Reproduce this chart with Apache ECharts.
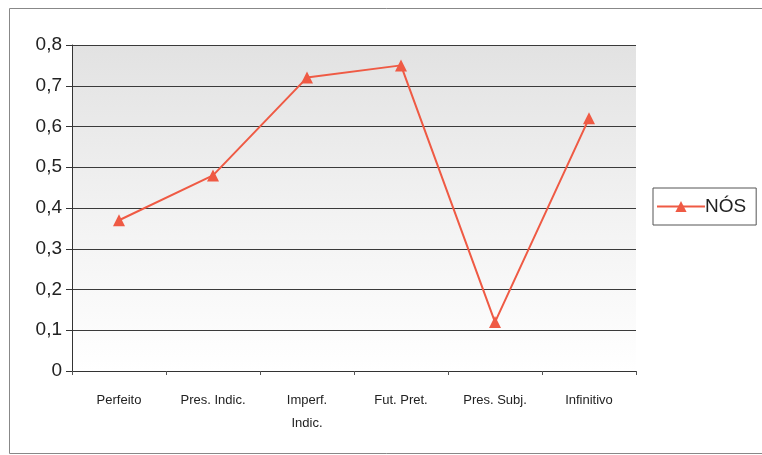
<!DOCTYPE html>
<html><head><meta charset="utf-8">
<script src="https://cdn.jsdelivr.net/npm/echarts@6/dist/echarts.min.js"></script>
<style>html,body{margin:0;padding:0;background:#fff}#c{width:762px;height:455px}</style>
</head><body><div id="c"></div>
<script>
const categories = ['Perfeito', 'Pres. Indic.', 'Imperf.\nIndic.', 'Fut. Pret.', 'Pres. Subj.', 'Infinitivo'];
const seriesName = 'NÓS';
const values = [0.37, 0.48, 0.72, 0.75, 0.12, 0.62];
const yTicks = [0, 0.1, 0.2, 0.3, 0.4, 0.5, 0.6, 0.7, 0.8];

const chart = echarts.init(document.getElementById('c'));
chart.setOption({
  animation: false,
  backgroundColor: '#fff',
  graphic: [{
    type: 'rect', left: 7, top: 6, shape: {width: 760, height: 445},
    style: {fill: 'none', stroke: '#888', lineWidth: 1}, silent: true
  }],
  grid: {left: 72, right: 126, top: 45, bottom: 84, show: true, borderWidth: 0,
    backgroundColor: new echarts.graphic.LinearGradient(0, 0, 0, 1, [
      {offset: 0, color: '#e2e2e2'}, {offset: 0.55, color: '#f3f3f3'}, {offset: 1, color: '#ffffff'}])},
  legend: {
    data: [seriesName], left: 653, top: 188, orient: 'vertical',
    itemWidth: 48, itemHeight: 14, itemGap: 0,
    borderColor: '#555', borderWidth: 1, padding: [9, 10, 9, 3],
    textStyle: {fontFamily: 'Liberation Sans', fontSize: 19, color: '#222', padding: [0, 0, 0, -5]}
  },
  xAxis: {
    type: 'category', data: categories, boundaryGap: true,
    axisLine: {lineStyle: {color: '#333', width: 1}},
    axisTick: {show: true, length: 4, lineStyle: {color: '#555'}},
    axisLabel: {fontFamily: 'Liberation Sans', fontSize: 13, color: '#222', margin: 18, lineHeight: 23, interval: 0},
    splitLine: {show: false}
  },
  yAxis: {
    type: 'value', min: 0, max: 0.8, interval: 0.1,
    axisLine: {show: true, lineStyle: {color: '#333', width: 1}},
    axisTick: {show: true, length: 6, lineStyle: {color: '#333'}},
    axisLabel: {fontFamily: 'Liberation Sans', fontSize: 19, color: '#222', margin: 10,
      formatter: v => { const t = yTicks.find(x => Math.abs(x - v) < 1e-9); return (t === 0 ? '0' : t.toFixed(1).replace('.', ',')); }},
    splitLine: {show: true, lineStyle: {color: '#3a3a3a', width: 1}}
  },
  series: [{
    name: seriesName, type: 'line', data: values,
    symbol: 'triangle', symbolSize: 12,
    lineStyle: {color: '#ef5a44', width: 2},
    itemStyle: {color: '#ef5a44'}
  }]
});
</script></body></html>
